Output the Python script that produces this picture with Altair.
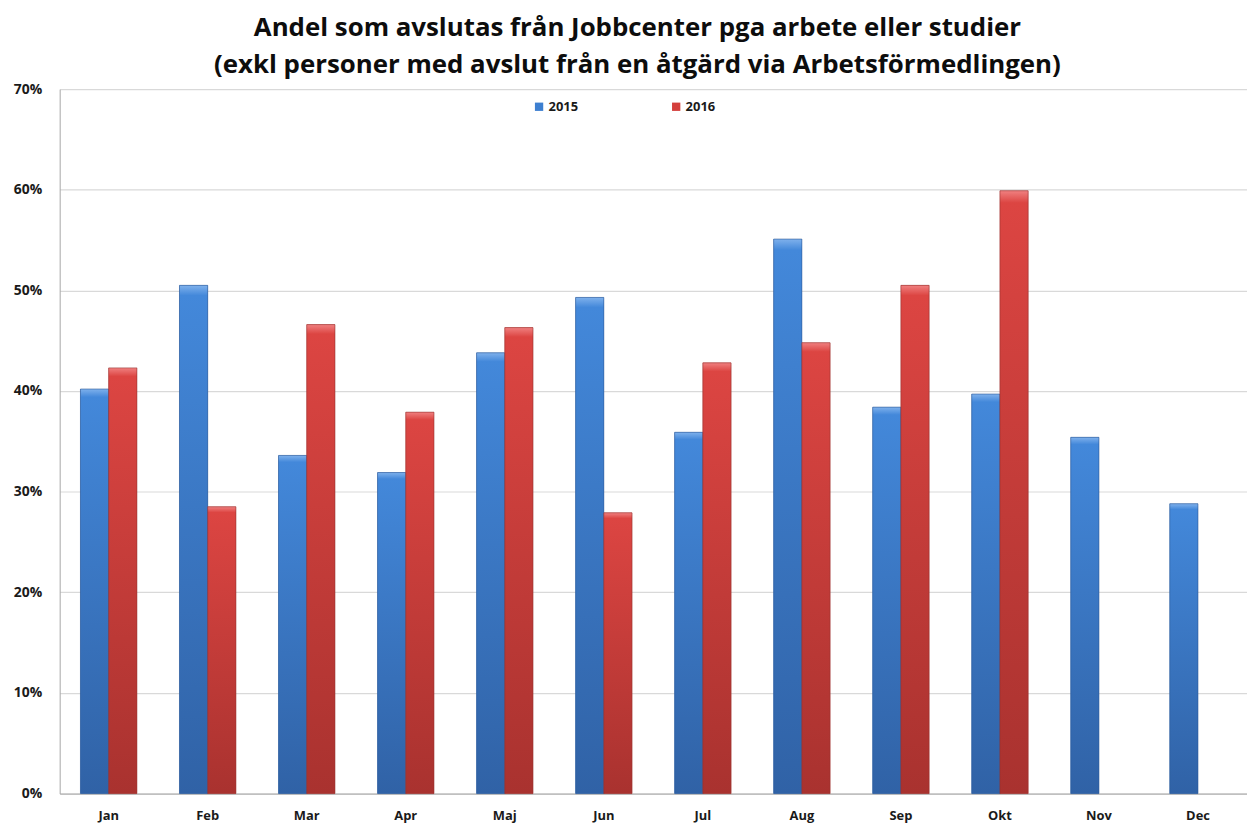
import altair as alt
import pandas as pd

months = ["Jan", "Feb", "Mar", "Apr", "Maj", "Jun", "Jul", "Aug", "Sep", "Okt", "Nov", "Dec"]
years = ["2015", "2016"]
values_2015 = [40.2, 50.5, 33.6, 31.9, 43.8, 49.3, 35.9, 55.1, 38.4, 39.7, 35.4, 28.8]
values_2016 = [42.3, 28.5, 46.6, 37.9, 46.3, 27.9, 42.8, 44.8, 50.5, 59.9, None, None]
colors = ["#3d7fd0", "#d43f3c"]

rows = []
for m, v in zip(months, values_2015):
    rows.append({"Månad": m, "År": "2015", "Andel": v / 100})
for m, v in zip(months, values_2016):
    if v is not None:
        rows.append({"Månad": m, "År": "2016", "Andel": v / 100})
df = pd.DataFrame(rows)

FONT = "Open Sans"

x_enc = alt.X("Månad:N", sort=months, title=None,
              scale=alt.Scale(paddingInner=0.43, paddingOuter=0.21),
              axis=alt.Axis(labelAngle=0, labelFontWeight="bold", labelFontSize=13,
                            labelColor="#1a1a1a", labelPadding=16, ticks=False,
                            domainColor="#a6a6a6", labelFont=FONT))
y_enc = alt.Y("Andel:Q", title=None,
              scale=alt.Scale(domain=[0, 0.7], nice=False),
              axis=alt.Axis(format=".0%", values=[0, 0.1, 0.2, 0.3, 0.4, 0.5, 0.6, 0.7],
                            labelFontWeight="bold", labelFontSize=14, labelColor="#1a1a1a",
                            labelPadding=18, ticks=False, domainColor="#a6a6a6",
                            gridColor="#d9d9d9", gridWidth=1.2, labelFont=FONT))
xoff = alt.XOffset("År:N", scale=alt.Scale(domain=years))

base = alt.Chart(df).mark_bar().encode(
    x=x_enc, y=y_enc, xOffset=xoff,
    color=alt.Color("År:N", scale=alt.Scale(domain=years, range=colors),
                    legend=alt.Legend(title=None, orient="none", direction="horizontal",
                                      legendX=476, legendY=11, symbolType="square",
                                      symbolSize=70, symbolStrokeWidth=0,
                                      labelFontWeight="bold", labelFontSize=13,
                                      labelFont=FONT, labelColor="#1a1a1a",
                                      columnPadding=92, labelOffset=3, padding=0)),
)

def grad(c1, c2, c3):
    return alt.Gradient(gradient="linear", x1=0, y1=0, x2=0, y2=1,
                        stops=[alt.GradientStop(offset=0, color=c1),
                               alt.GradientStop(offset=0.02, color=c2),
                               alt.GradientStop(offset=1, color=c3)])

blue = alt.Chart(df).transform_filter(alt.datum["År"] == "2015").mark_bar(
    fill=grad("#7fb1ec", "#4388da", "#3062a6"), stroke="#2c5896", strokeWidth=0.6
).encode(x=x_enc, y=y_enc, xOffset=xoff)

red = alt.Chart(df).transform_filter(alt.datum["År"] == "2016").mark_bar(
    fill=grad("#f08080", "#dc4542", "#a9322f"), stroke="#963230", strokeWidth=0.6
).encode(x=x_enc, y=y_enc, xOffset=xoff)

chart = alt.layer(base, blue, red).properties(
    width=1195, height=709,
    autosize=alt.AutoSizeParams(type="none"),
    padding={"left": 52, "top": 79, "right": 0, "bottom": 30},
    title=alt.TitleParams(
        text=["Andel som avslutas från Jobbcenter pga arbete eller studier",
              "(exkl personer med avslut från en åtgärd via Arbetsförmedlingen)"],
        font=FONT, fontSize=26, fontWeight="bold", color="#0d0d0d",
        anchor="middle", dx=-16, dy=31, offset=14, lineHeight=37, baseline="alphabetic"),
).configure_view(stroke=None)

chart.save("out.html", embed_options={"renderer": "svg", "actions": False})
